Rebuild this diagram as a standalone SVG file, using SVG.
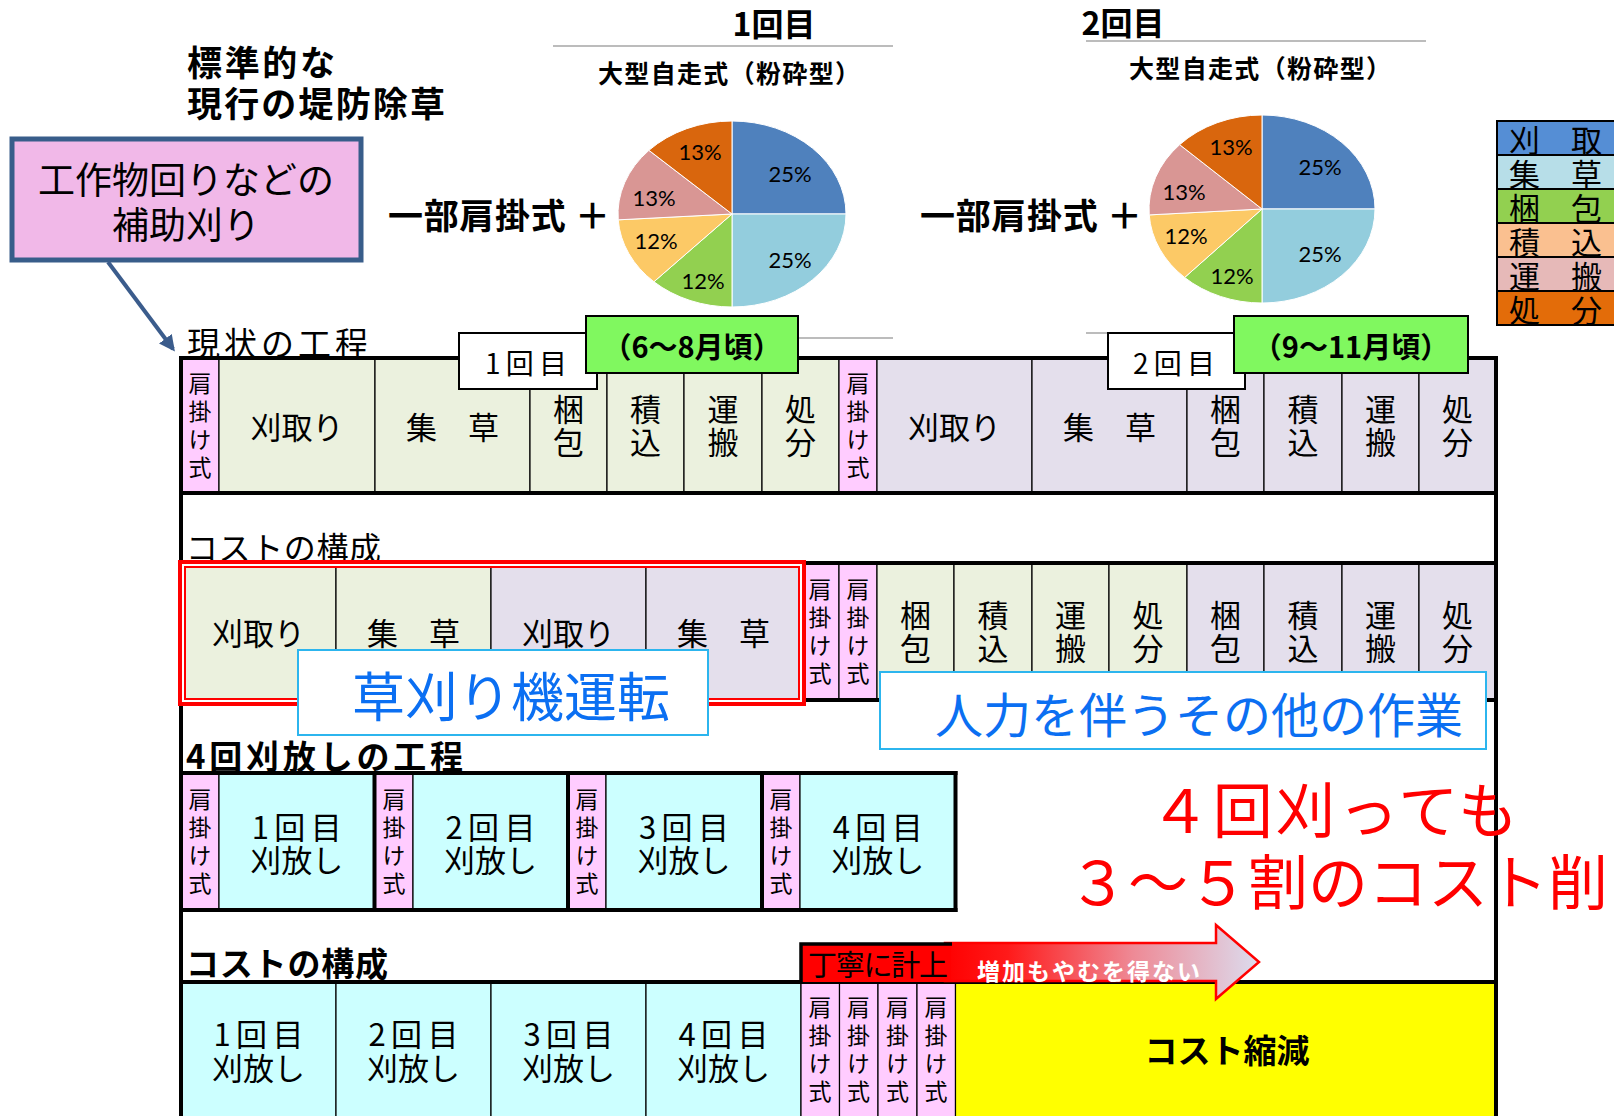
<svg xmlns="http://www.w3.org/2000/svg" width="1614" height="1116" viewBox="0 0 1614 1116">
<defs>
<style>
text{font-family:"Noto Sans CJK JP","Noto Sans",sans-serif;fill:#000}
.hb{font-weight:700}
.c{font-size:31px;text-anchor:middle;dominant-baseline:central}
.vt{font-size:31px;text-anchor:middle;writing-mode:vertical-rl;letter-spacing:2px}
.v{font-size:23px;text-anchor:middle;writing-mode:vertical-rl;letter-spacing:5px}
.pl{font-family:Lato,"Liberation Sans",sans-serif;font-size:22px;text-anchor:middle;dominant-baseline:central}
.lg{font-size:31px;dominant-baseline:central}
.g{fill:#ebf1de;stroke:#000;stroke-width:1.2}
.l{fill:#e4dfec;stroke:#000;stroke-width:1.2}
.p{fill:#ffccff;stroke:#000;stroke-width:1.2}
.cy{fill:#ccffff;stroke:#000;stroke-width:1.2}
.tk{stroke:#000;stroke-width:4;fill:none;stroke-linecap:square}
.gray{stroke:#a6a6a6;stroke-width:1.5}
.ps{stroke:#fff;stroke-width:1}
</style>
<marker id="ah" viewBox="0 0 10 10" refX="8" refY="5" markerWidth="4" markerHeight="4" orient="auto" markerUnits="strokeWidth">
<path d="M0,0 L10,5 L0,10 Z" fill="#3b5c8c"/>
</marker>
<linearGradient id="ag" gradientUnits="userSpaceOnUse" x1="945" y1="0" x2="1259" y2="0">
<stop offset="0" stop-color="#ff0000"/>
<stop offset="0.2" stop-color="#ff1a1a"/>
<stop offset="0.6" stop-color="#ee8a96"/>
<stop offset="1" stop-color="#dcdcee"/>
</linearGradient>
</defs>
<rect width="1614" height="1116" fill="#fff"/>

<g id="heading">
<text class="hb" x="187" y="60" font-size="35" dominant-baseline="central" textLength="148">標準的な</text>
<text class="hb" x="187" y="101" font-size="35" dominant-baseline="central" textLength="258">現行の堤防除草</text>
</g>

<g id="callout">
<rect x="12" y="139" width="349" height="121" fill="#f1b8e8" stroke="#385d8a" stroke-width="5"/>
<text x="186" y="178" font-size="37" text-anchor="middle" dominant-baseline="central">工作物回りなどの</text>
<text x="186" y="223" font-size="37" text-anchor="middle" dominant-baseline="central">補助刈り</text>
</g>

<g id="chart1">
<text class="hb" x="774" y="22" font-size="32" text-anchor="middle" dominant-baseline="central">1回目</text>
<line class="gray" x1="553" y1="46" x2="893" y2="46"/>
<line class="gray" x1="798" y1="338" x2="893" y2="338"/>
<text class="hb" x="598" y="72" font-size="25" dominant-baseline="central" textLength="262">大型自走式（粉砕型）</text>
<text class="hb" x="388" y="213" font-size="35" dominant-baseline="central" textLength="222">一部肩掛式 ＋</text>
<path class="ps" fill="#4f81bd" d="M732,214 L732,121 A114,93 0 0,1 846,214 Z"/>
<path class="ps" fill="#93cddd" d="M732,214 L846,214 A114,93 0 0,1 732,307 Z"/>
<path class="ps" fill="#92d050" d="M732,214 L732,307 A114,93 0 0,1 653.93,281.77 Z"/>
<path class="ps" fill="#fcc966" d="M732,214 L653.93,281.77 A114,93 0 0,1 618.22,219.84 Z"/>
<path class="ps" fill="#d99694" d="M732,214 L618.22,219.84 A114,93 0 0,1 648.9,150.34 Z"/>
<path class="ps" fill="#d9660d" d="M732,214 L648.9,150.34 A114,93 0 0,1 732,121 Z"/>
<text class="pl" x="790" y="173">25%</text>
<text class="pl" x="790" y="259">25%</text>
<text class="pl" x="703" y="280">12%</text>
<text class="pl" x="656" y="240">12%</text>
<text class="pl" x="654" y="197">13%</text>
<text class="pl" x="700" y="151">13%</text>
</g>

<g id="chart2">
<text class="hb" x="1123" y="21" font-size="32" text-anchor="middle" dominant-baseline="central">2回目</text>
<line class="gray" x1="1086" y1="41" x2="1426" y2="41"/>
<line class="gray" x1="1086" y1="333" x2="1110" y2="333"/>
<text class="hb" x="1129" y="67" font-size="25" dominant-baseline="central" textLength="262">大型自走式（粉砕型）</text>
<text class="hb" x="920" y="213" font-size="35" dominant-baseline="central" textLength="222">一部肩掛式 ＋</text>
<path class="ps" fill="#4f81bd" d="M1262,209 L1262,115 A113,94 0 0,1 1375,209 Z"/>
<path class="ps" fill="#93cddd" d="M1262,209 L1375,209 A113,94 0 0,1 1262,303 Z"/>
<path class="ps" fill="#92d050" d="M1262,209 L1262,303 A113,94 0 0,1 1184.62,277.5 Z"/>
<path class="ps" fill="#fcc966" d="M1262,209 L1184.62,277.5 A113,94 0 0,1 1149.22,214.9 Z"/>
<path class="ps" fill="#d99694" d="M1262,209 L1149.22,214.9 A113,94 0 0,1 1179.63,144.65 Z"/>
<path class="ps" fill="#d9660d" d="M1262,209 L1179.63,144.65 A113,94 0 0,1 1262,115 Z"/>
<text class="pl" x="1320" y="166">25%</text>
<text class="pl" x="1320" y="253">25%</text>
<text class="pl" x="1232" y="275">12%</text>
<text class="pl" x="1186" y="235">12%</text>
<text class="pl" x="1184" y="191">13%</text>
<text class="pl" x="1231" y="146">13%</text>
</g>

<g id="legend">
<rect x="1497" y="121" width="118" height="34" fill="#558ed5" stroke="#000" stroke-width="2"/>
<rect x="1497" y="155" width="118" height="34" fill="#b7dee8" stroke="#000" stroke-width="2"/>
<rect x="1497" y="189" width="118" height="34" fill="#92d050" stroke="#000" stroke-width="2"/>
<rect x="1497" y="223" width="118" height="34" fill="#fac090" stroke="#000" stroke-width="2"/>
<rect x="1497" y="257" width="118" height="34" fill="#e6b9b8" stroke="#000" stroke-width="2"/>
<rect x="1497" y="291" width="118" height="34" fill="#e36c09" stroke="#000" stroke-width="2"/>
<text class="lg" x="1509" y="138">刈　取</text>
<text class="lg" x="1509" y="172">集　草</text>
<text class="lg" x="1509" y="206">梱　包</text>
<text class="lg" x="1509" y="240">積　込</text>
<text class="lg" x="1509" y="274">運　搬</text>
<text class="lg" x="1509" y="308">処　分</text>
</g>

<g id="labels">
<text x="187" y="342" font-size="33" dominant-baseline="central" textLength="181">現状の工程</text>
<text x="186" y="546" font-size="32" dominant-baseline="central" textLength="195">コストの構成</text>
<text class="hb" x="186" y="755" font-size="33" dominant-baseline="central" textLength="277">4回刈放しの工程</text>
<text class="hb" x="186" y="962" font-size="33" dominant-baseline="central" textLength="202">コストの構成</text>
</g>

<g id="row1">
<rect class="p" x="181" y="358" width="38" height="135"/>
<rect class="g" x="219" y="358" width="156" height="135"/>
<rect class="g" x="375" y="358" width="155" height="135"/>
<rect class="g" x="530" y="358" width="77" height="135"/>
<rect class="g" x="607" y="358" width="77" height="135"/>
<rect class="g" x="684" y="358" width="78" height="135"/>
<rect class="g" x="762" y="358" width="77" height="135"/>
<rect class="p" x="839" y="358" width="38" height="135"/>
<rect class="l" x="877" y="358" width="155" height="135"/>
<rect class="l" x="1032" y="358" width="155" height="135"/>
<rect class="l" x="1187" y="358" width="77" height="135"/>
<rect class="l" x="1264" y="358" width="78" height="135"/>
<rect class="l" x="1342" y="358" width="77" height="135"/>
<rect class="l" x="1419" y="358" width="77" height="135"/>
<text class="v" x="200" y="428">肩掛け式</text>
<text class="c" x="297" y="425.5">刈取り</text>
<text class="c" x="452.5" y="425.5">集　草</text>
<text class="vt" x="568.5" y="427">梱包</text>
<text class="vt" x="645.5" y="427">積込</text>
<text class="vt" x="723" y="427">運搬</text>
<text class="vt" x="800.5" y="427">処分</text>
<text class="v" x="858" y="428">肩掛け式</text>
<text class="c" x="954.5" y="425.5">刈取り</text>
<text class="c" x="1109.5" y="425.5">集　草</text>
<text class="vt" x="1225.5" y="427">梱包</text>
<text class="vt" x="1303" y="427">積込</text>
<text class="vt" x="1380.5" y="427">運搬</text>
<text class="vt" x="1457.5" y="427">処分</text>
</g>

<g id="row2">
<rect class="g" x="181" y="563" width="155" height="137"/>
<rect class="g" x="336" y="563" width="155" height="137"/>
<rect class="l" x="491" y="563" width="155" height="137"/>
<rect class="l" x="646" y="563" width="155" height="137"/>
<rect class="p" x="801" y="563" width="38" height="137"/>
<rect class="p" x="839" y="563" width="38" height="137"/>
<rect class="g" x="877" y="563" width="77" height="137"/>
<rect class="g" x="954" y="563" width="78" height="137"/>
<rect class="g" x="1032" y="563" width="77" height="137"/>
<rect class="g" x="1109" y="563" width="78" height="137"/>
<rect class="l" x="1187" y="563" width="77" height="137"/>
<rect class="l" x="1264" y="563" width="78" height="137"/>
<rect class="l" x="1342" y="563" width="77" height="137"/>
<rect class="l" x="1419" y="563" width="77" height="137"/>
<text class="c" x="258.5" y="631.5">刈取り</text>
<text class="c" x="413.5" y="631.5">集　草</text>
<text class="c" x="568.5" y="631.5">刈取り</text>
<text class="c" x="723.5" y="631.5">集　草</text>
<text class="v" x="820" y="634">肩掛け式</text>
<text class="v" x="858" y="634">肩掛け式</text>
<text class="vt" x="915.5" y="632.5">梱包</text>
<text class="vt" x="993" y="632.5">積込</text>
<text class="vt" x="1070.5" y="632.5">運搬</text>
<text class="vt" x="1148" y="632.5">処分</text>
<text class="vt" x="1225.5" y="632.5">梱包</text>
<text class="vt" x="1303" y="632.5">積込</text>
<text class="vt" x="1380.5" y="632.5">運搬</text>
<text class="vt" x="1457.5" y="632.5">処分</text>
</g>

<g id="row3">
<rect class="p" x="181" y="773" width="38" height="137"/>
<rect class="cy" x="219" y="773" width="155.5" height="137"/>
<rect class="p" x="374.5" y="773" width="38.5" height="137"/>
<rect class="cy" x="413" y="773" width="155" height="137"/>
<rect class="p" x="568" y="773" width="38" height="137"/>
<rect class="cy" x="606" y="773" width="156" height="137"/>
<rect class="p" x="762" y="773" width="38" height="137"/>
<rect class="cy" x="800" y="773" width="155.5" height="137"/>
<text class="v" x="200" y="844">肩掛け式</text>
<text class="v" x="394" y="844">肩掛け式</text>
<text class="v" x="587" y="844">肩掛け式</text>
<text class="v" x="781" y="844">肩掛け式</text>
<text class="c" x="296.75" y="825" textLength="90">1回目</text>
<text class="c" x="296.75" y="858">刈放し</text>
<text class="c" x="490.5" y="825" textLength="90">2回目</text>
<text class="c" x="490.5" y="858">刈放し</text>
<text class="c" x="684" y="825" textLength="90">3回目</text>
<text class="c" x="684" y="858">刈放し</text>
<text class="c" x="877.75" y="825" textLength="90">4回目</text>
<text class="c" x="877.75" y="858">刈放し</text>
</g>

<g id="row4">
<rect class="cy" x="181" y="982" width="155" height="140"/>
<rect class="cy" x="336" y="982" width="155" height="140"/>
<rect class="cy" x="491" y="982" width="155" height="140"/>
<rect class="cy" x="646" y="982" width="155" height="140"/>
<rect class="p" x="801" y="982" width="38.5" height="140"/>
<rect class="p" x="839.5" y="982" width="38.5" height="140"/>
<rect class="p" x="878" y="982" width="39" height="140"/>
<rect class="p" x="917" y="982" width="38.5" height="140"/>
<rect x="955.5" y="982" width="540.5" height="140" fill="#ffff00" stroke="#000" stroke-width="1.2"/>
<text class="c" x="258.5" y="1032" textLength="90">1回目</text>
<text class="c" x="258.5" y="1066">刈放し</text>
<text class="c" x="413.5" y="1032" textLength="90">2回目</text>
<text class="c" x="413.5" y="1066">刈放し</text>
<text class="c" x="568.5" y="1032" textLength="90">3回目</text>
<text class="c" x="568.5" y="1066">刈放し</text>
<text class="c" x="723.5" y="1032" textLength="90">4回目</text>
<text class="c" x="723.5" y="1066">刈放し</text>
<text class="v" x="820" y="1052">肩掛け式</text>
<text class="v" x="858.5" y="1052">肩掛け式</text>
<text class="v" x="897.5" y="1052">肩掛け式</text>
<text class="v" x="936" y="1052">肩掛け式</text>
<text class="hb" x="1227" y="1049" font-size="33" text-anchor="middle" dominant-baseline="central">コスト縮減</text>
</g>

<g id="frame">
<line class="tk" x1="181" y1="358" x2="181" y2="1120"/>
<line class="tk" x1="1496" y1="358" x2="1496" y2="1120"/>
<line class="tk" x1="181" y1="358" x2="1496" y2="358"/>
<line class="tk" x1="181" y1="493" x2="1496" y2="493"/>
<line class="tk" x1="181" y1="563" x2="1496" y2="563"/>
<line class="tk" x1="181" y1="700" x2="1496" y2="700"/>
<line class="tk" x1="181" y1="773" x2="955.5" y2="773"/>
<line class="tk" x1="181" y1="910" x2="955.5" y2="910"/>
<line class="tk" x1="374.5" y1="773" x2="374.5" y2="910"/>
<line class="tk" x1="568" y1="773" x2="568" y2="910"/>
<line class="tk" x1="762" y1="773" x2="762" y2="910"/>
<line class="tk" x1="955.5" y1="773" x2="955.5" y2="910"/>
<line class="tk" x1="181" y1="982" x2="1496" y2="982"/>
</g>

<g id="tag1">
<rect x="459" y="333" width="138" height="56" fill="#fff" stroke="#000" stroke-width="2"/>
<text x="485" y="362" font-size="28" dominant-baseline="central" textLength="82">1回目</text>
</g>
<g id="period1">
<rect x="586" y="316" width="212" height="57" fill="#80f85f" stroke="#000" stroke-width="2"/>
<text class="hb" x="692" y="345" font-size="29" text-anchor="middle" dominant-baseline="central">（6～8月頃）</text>
</g>
<g id="tag2">
<rect x="1108" y="333" width="137" height="56" fill="#fff" stroke="#000" stroke-width="2"/>
<text x="1133" y="362" font-size="28" dominant-baseline="central" textLength="82">2回目</text>
</g>
<g id="period2">
<rect x="1234" y="316" width="234" height="57" fill="#80f85f" stroke="#000" stroke-width="2"/>
<text class="hb" x="1351" y="345" font-size="29" text-anchor="middle" dominant-baseline="central">（9～11月頃）</text>
</g>

<g id="mower-highlight">
<rect x="180" y="562" width="624" height="142" fill="none" stroke="#ff0000" stroke-width="4"/>
<rect x="183" y="565" width="618" height="136" fill="none" stroke="#fff" stroke-width="2"/>
<rect x="185" y="567" width="614" height="132" fill="none" stroke="#ff0000" stroke-width="2"/>
</g>

<g id="mower-label">
<rect x="298" y="650" width="410" height="85" fill="#fff" stroke="#2cb5ee" stroke-width="2"/>
<text x="511" y="694" font-size="53" text-anchor="middle" dominant-baseline="central" style="fill:#0b6ff2">草刈り機運転</text>
</g>
<g id="manual-label">
<rect x="880" y="672" width="606" height="77" fill="#fff" stroke="#2cb5ee" stroke-width="2"/>
<text x="1199" y="712" font-size="48" text-anchor="middle" dominant-baseline="central" style="fill:#0b6ff2">人力を伴うその他の作業</text>
</g>

<g id="message">
<text x="1150" y="806" font-size="60" dominant-baseline="central" textLength="368" style="fill:#ff0000">４回刈っても</text>
<text x="1068" y="878" font-size="60" dominant-baseline="central" style="fill:#ff0000">３～５割のコスト削</text>
</g>

<g id="arrow-increase">
<polygon points="945,943 1216,943 1216,925 1259,962 1216,999 1216,981 945,981" fill="url(#ag)" stroke="#ff0000" stroke-width="2.5" stroke-linejoin="miter"/>
<text x="977" y="970" font-size="23" class="hb" dominant-baseline="central" textLength="223" style="fill:#fff">増加もやむを得ない</text>
</g>
<g id="careful-label">
<rect x="801" y="944" width="150" height="38" fill="#ff0000"/>
<path d="M801,982 L801,944 L952,944" fill="none" stroke="#000" stroke-width="3.5"/>
<text x="808" y="963" font-size="29" dominant-baseline="central" textLength="140">丁寧に計上</text>
</g>

<g id="connectors">
<line x1="108" y1="262" x2="173" y2="349" stroke="#3b5c8c" stroke-width="4" marker-end="url(#ah)"/>
</g>
</svg>
